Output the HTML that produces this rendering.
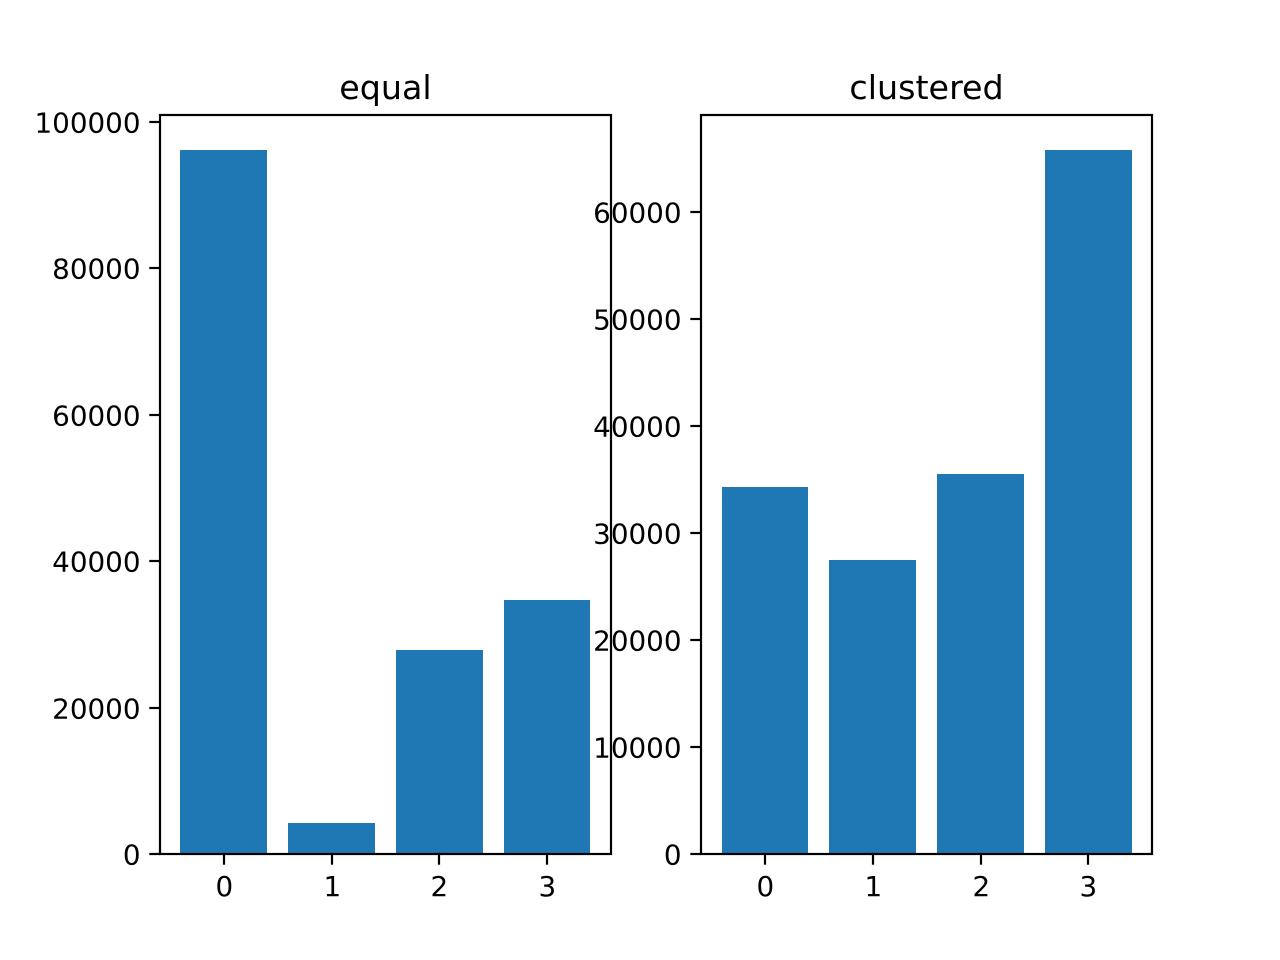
<!DOCTYPE html>
<html>
<head>
<meta charset="utf-8">
<title>equal vs clustered</title>
<style>
html,body{margin:0;padding:0;background:#fff;}
svg{display:block;}
text{font-family:"DejaVu Sans",sans-serif;fill:#000;}
</style>
</head>
<body>
<svg id="figure" width="1280" height="960" viewBox="0 0 1280 960" xmlns="http://www.w3.org/2000/svg">
<rect x="0" y="0" width="1280" height="960" fill="#ffffff"/>
</svg>
<script>
const categories = [0, 1, 2, 3];
const equalValues = [96100, 4300, 27900, 34700];
const clusteredValues = [34300, 27500, 35600, 65800];
const equalTicks = [0, 20000, 40000, 60000, 80000, 100000];
const clusteredTicks = [0, 10000, 20000, 30000, 40000, 50000, 60000];
const equalTitle = "equal";
const clusteredTitle = "clustered";

const NS = "http://www.w3.org/2000/svg";
const svg = document.getElementById("figure");

function make(parent, tag, attrs) {
  const el = document.createElementNS(NS, tag);
  for (const k in attrs) el.setAttribute(k, attrs[k]);
  parent.appendChild(el);
  return el;
}

function snap(v) {
  return Math.round(v - 0.01);
}

function drawPanel(name, box, values, ticks, title) {
  const group = make(svg, "g", {});
  
  

  const barWidth = 0.8;
  const xMin = Math.min(...categories) - barWidth / 2;
  const xMax = Math.max(...categories) + barWidth / 2;
  const xPad = (xMax - xMin) * 0.05;
  const yMax = Math.max(...values) * 1.05;
  const xScale = v => box.left + (v - (xMin - xPad)) / (xMax - xMin + 2 * xPad) * (box.right - box.left);
  const yScale = v => box.bottom - v / yMax * (box.bottom - box.top);

  const frameLeft = snap(box.left);
  const frameRight = snap(box.right);
  const frameTop = snap(box.top);
  const frameBottom = snap(box.bottom);

  categories.forEach((c, i) => {
    const x0 = snap(xScale(c - barWidth / 2));
    const x1 = snap(xScale(c + barWidth / 2));
    const y0 = snap(yScale(values[i]));
    const bar = make(group, "rect", { x: x0, y: y0, width: x1 - x0, height: frameBottom - y0, fill: "#1f77b4", "shape-rendering": "crispEdges" });
    
    
  });

  categories.forEach(c => {
    const x = snap(xScale(c));
    const tick = make(group, "line", { x1: x, x2: x, y1: frameBottom, y2: frameBottom + 10.7, stroke: "#000", "stroke-width": 2.2 });
    
    
    const label = make(group, "text", { x: x + 0.3, y: frameBottom + 42, "text-anchor": "middle", "font-size": 27.78 });
    
    
    label.textContent = String(c);
  });

  ticks.forEach(t => {
    const y = snap(yScale(t));
    const tick = make(group, "line", { x1: frameLeft - 10.7, x2: frameLeft, y1: y, y2: y, stroke: "#000", "stroke-width": 2.2 });
    
    
    const label = make(group, "text", { x: frameLeft - 19.5, y: y + 10.6, "text-anchor": "end", "font-size": 27.78 });
    
    
    label.textContent = String(t);
  });

  const frame = make(group, "rect", {
    x: frameLeft, y: frameTop, width: frameRight - frameLeft, height: frameBottom - frameTop,
    fill: "none", stroke: "#000", "stroke-width": 2.2, "stroke-linejoin": "miter"
  });
  
  

  const heading = make(group, "text", {
    x: (box.left + box.right) / 2, y: 99, "text-anchor": "middle", "font-size": 33.33
  });
  
  
  heading.textContent = title;
}

drawPanel("equal", { left: 160, right: 610.9, top: 115.2, bottom: 854.4 }, equalValues, equalTicks, equalTitle);
drawPanel("clustered", { left: 701.1, right: 1152.05, top: 115.2, bottom: 854.4 }, clusteredValues, clusteredTicks, clusteredTitle);
</script>
</body>
</html>
